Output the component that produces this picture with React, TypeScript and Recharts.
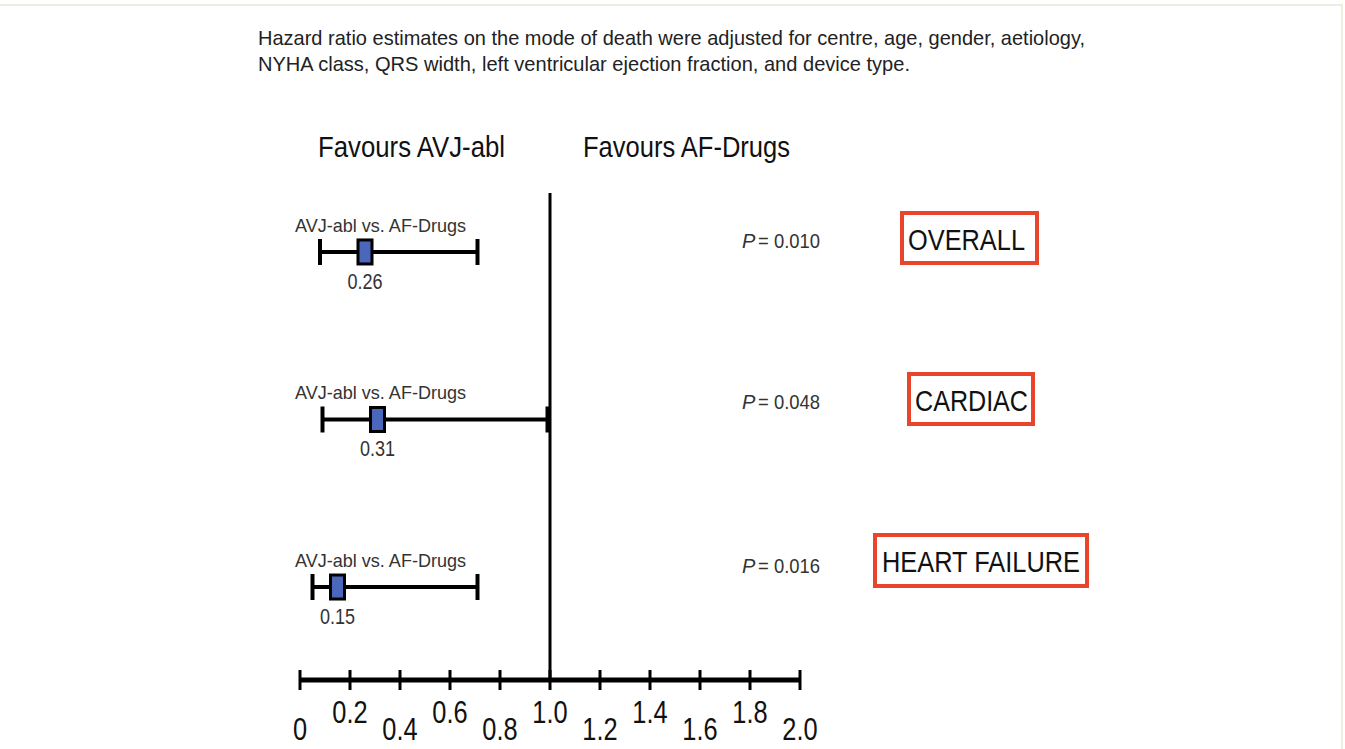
import React from 'react';
import { ComposedChart, Scatter, ErrorBar, XAxis, YAxis, ReferenceLine } from 'recharts';

// forest plot: AVJ-abl vs AF-Drugs, hazard ratios by mode of death
const outcomes = ['OVERALL', 'CARDIAC', 'HEART FAILURE'];
const hazardRatios = [0.26, 0.31, 0.15];
const ciLower = [0.08, 0.09, 0.05];
const ciUpper = [0.71, 0.99, 0.71];
const pValues = ['0.010', '0.048', '0.016'];
const comparisonLabel = 'AVJ-abl vs. AF-Drugs';
const xTicks = [0, 0.2, 0.4, 0.6, 0.8, 1.0, 1.2, 1.4, 1.6, 1.8, 2.0];
const xTickLabels = ['0', '0.2', '0.4', '0.6', '0.8', '1.0', '1.2', '1.4', '1.6', '1.8', '2.0'];

const FONT = '"Liberation Sans", Arial, Helvetica, sans-serif';
const W = 1345;
const H = 749;
const LABEL_X = 0.324; // where the comparison label sits on the HR scale

const rows = outcomes.map((name, i) => ({
  name,
  row: i + 1,
  x: hazardRatios[i],
  hr: hazardRatios[i],
  err: [hazardRatios[i] - ciLower[i], ciUpper[i] - hazardRatios[i]],
}));
const labelRows = outcomes.map((name, i) => ({ name, row: i + 1, x: LABEL_X }));

// Arial Narrow look: squeeze Liberation Sans horizontally around the anchor
const narrow = (x: number, k = 0.82) => `matrix(${k} 0 0 1 ${x * (1 - k)} 0)`;

const HrBox = (props: any) => {
  const { cx, cy, payload } = props;
  if (cx == null || cy == null) return null;
  return (
    <g>
      <rect x={cx - 7} y={cy - 12} width={14} height={24} fill="#4a67bb" stroke="#000" strokeWidth={3} />
      <text
        x={cx}
        y={cy + 37}
        textAnchor="middle"
        fontSize={22}
        fontFamily={FONT}
        fill="#333"
        transform={narrow(cx)}
      >
        {payload.hr.toFixed(2)}
      </text>
    </g>
  );
};

const ComparisonText = (props: any) => {
  const { cx, cy } = props;
  if (cx == null || cy == null) return null;
  return (
    <text
      x={cx - 86}
      y={cy - 20}
      fontSize={19}
      fontFamily={FONT}
      fill="#333"
      textLength={171}
      lengthAdjust="spacingAndGlyphs"
    >
      {comparisonLabel}
    </text>
  );
};

const AxisTick = (props: any) => {
  const { x, y, index } = props;
  const low = index % 2 === 0;
  return (
    <g>
      <line x1={x} x2={x} y1={y - 10} y2={y + 10} stroke="#000" strokeWidth={3} />
      <text
        x={x}
        y={low ? y + 60 : y + 43}
        textAnchor="middle"
        fontSize={31}
        fontFamily={FONT}
        fill="#111"
        transform={narrow(x)}
      >
        {xTickLabels[index]}
      </text>
    </g>
  );
};

// P-values and outcome boxes on the right (outside the HR scale)
const pPos = [248, 409, 573];
const boxPos = [
  { x: 902, y: 213, w: 135, h: 50, tx: 908, tl: 117 },
  { x: 909, y: 374, w: 124, h: 50, tx: 915, tl: 113 },
  { x: 875, y: 535, w: 212, h: 51, tx: 882, tl: 198 },
];

export default function App() {
  return (
    <div style={{ position: 'absolute', left: 0, top: 0, width: W, height: H, background: '#fff' }}>
      <ComposedChart
        width={W}
        height={H}
        data={rows}
        margin={{ top: 193, right: W - 800, bottom: 9, left: 300 }}
      >
        <XAxis
          type="number"
          dataKey="x"
          domain={[0, 2]}
          ticks={xTicks}
          interval={0}
          height={60}
          tickSize={0}
          tickMargin={0}
          tickLine={false}
          axisLine={{ stroke: '#000', strokeWidth: 5 }}
          tick={<AxisTick />}
        />
        <YAxis type="number" dataKey="row" domain={[0.648, 3.555]} reversed hide />
        <ReferenceLine x={1} stroke="#000" strokeWidth={3} />
        <Scatter data={labelRows} dataKey="row" isAnimationActive={false} shape={<ComparisonText />} />
        <Scatter data={rows} dataKey="row" isAnimationActive={false} shape={<HrBox />}>
          <ErrorBar dataKey="err" direction="x" width={13} stroke="#000" strokeWidth={4} />
        </Scatter>
      </ComposedChart>

      <svg
        width={W}
        height={H}
        style={{ position: 'absolute', left: 0, top: 0, pointerEvents: 'none' }}
        fontFamily={FONT}
      >
        <rect x={-4} y={5} width={W + 1} height={H + 10} fill="none" stroke="#eeeddf" strokeWidth={2} />
        <text x={258} y={45} fontSize={21} fill="#222" textLength={827} lengthAdjust="spacingAndGlyphs">
          Hazard ratio estimates on the mode of death were adjusted for centre, age, gender, aetiology,
        </text>
        <text x={258} y={71} fontSize={21} fill="#222" textLength={652} lengthAdjust="spacingAndGlyphs">
          NYHA class, QRS width, left ventricular ejection fraction, and device type.
        </text>
        <text x={318} y={157} fontSize={30} fill="#111" textLength={187} lengthAdjust="spacingAndGlyphs">
          Favours AVJ-abl
        </text>
        <text x={583} y={157} fontSize={30} fill="#111" textLength={207} lengthAdjust="spacingAndGlyphs">
          Favours AF-Drugs
        </text>
        {outcomes.map((name, i) => (
          <g key={name}>
            <text x={742} y={pPos[i]} fontSize={20} fill="#333" fontStyle="italic">
              P
            </text>
            <text x={758} y={pPos[i]} fontSize={20} fill="#333" textLength={62} lengthAdjust="spacingAndGlyphs">
              {`= ${pValues[i]}`}
            </text>
            <rect
              x={boxPos[i].x}
              y={boxPos[i].y}
              width={boxPos[i].w}
              height={boxPos[i].h}
              fill="#fff"
              stroke="#e8452c"
              strokeWidth={4}
            />
            <text
              x={boxPos[i].tx}
              y={boxPos[i].y + 37}
              fontSize={29}
              fill="#111"
              textLength={boxPos[i].tl}
              lengthAdjust="spacingAndGlyphs"
            >
              {name}
            </text>
          </g>
        ))}
      </svg>
    </div>
  );
}
